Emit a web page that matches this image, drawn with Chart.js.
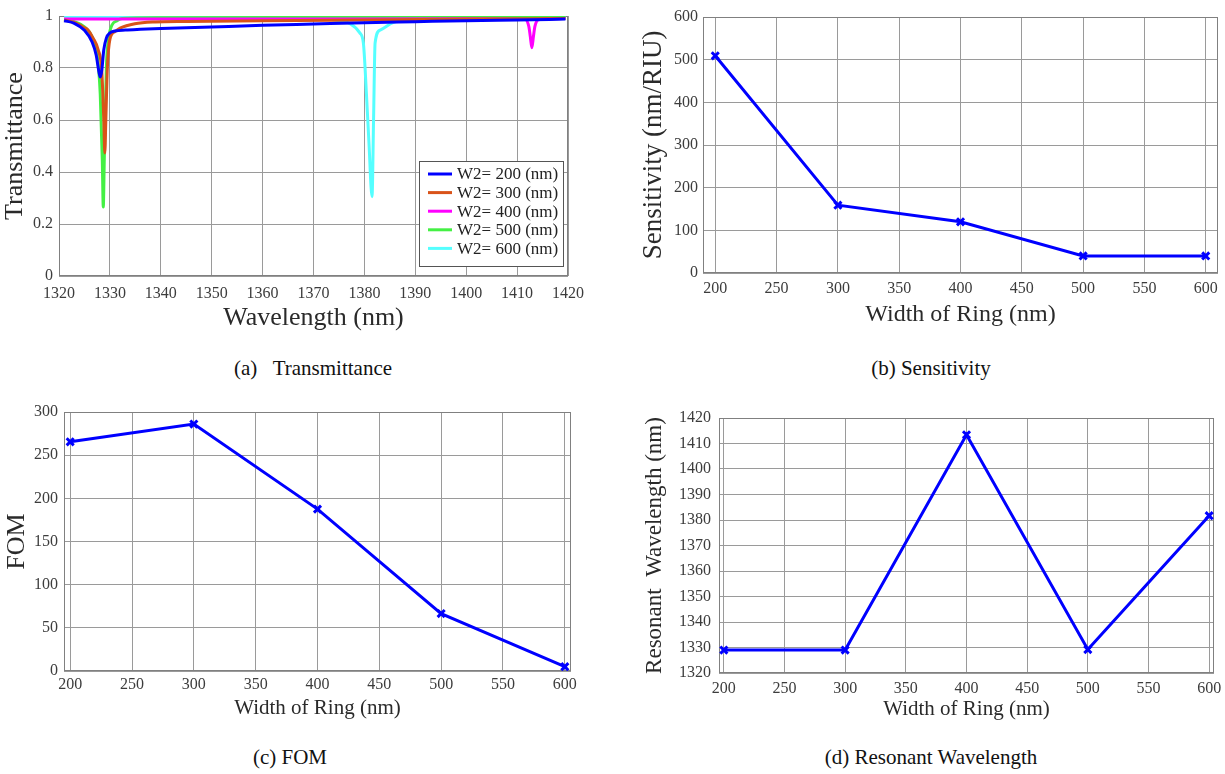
<!DOCTYPE html>
<html>
<head>
<meta charset="utf-8">
<script src="https://cdn.jsdelivr.net/npm/chart.js@4.4.1/dist/chart.umd.min.js"></script>
<style>
  html, body { margin: 0; padding: 0; background: #fff; overflow: hidden; }
  body { width: 1225px; height: 774px; position: relative; font-family: 'Liberation Serif', 'Times New Roman', serif; }
  .panel { position: absolute; }
  .caption { position: absolute; font-size: 21px; color: #111; transform: translateX(-50%); white-space: pre; }
</style>
</head>
<body>
<div class="panel" style="left:0;top:0"><canvas id="transChart" width="600" height="340"></canvas></div>
<div class="panel" style="left:600px;top:0"><canvas id="sensChart" width="640" height="340"></canvas></div>
<div class="panel" style="left:0;top:390px"><canvas id="fomChart" width="610" height="340"></canvas></div>
<div class="panel" style="left:620px;top:390px"><canvas id="resChart" width="620" height="340"></canvas></div>

<div class="caption" style="left:313px;top:356px">(a)   Transmittance</div>
<div class="caption" style="left:931px;top:356px">(b) Sensitivity</div>
<div class="caption" style="left:290px;top:745px">(c) FOM</div>
<div class="caption" style="left:931px;top:745px">(d) Resonant Wavelength</div>

<script>
// Transmittance spectra, one pair of arrays per ring width
const wl200 = [1321, 1323, 1325, 1326.5, 1327.3, 1327.8, 1328.1, 1328.4, 1328.8, 1329.3, 1330, 1331, 1333, 1336, 1340, 1350, 1360, 1370, 1380, 1390, 1400, 1410, 1419.5];
const tr200 = [0.982, 0.972, 0.945, 0.9, 0.85, 0.79, 0.765, 0.79, 0.87, 0.915, 0.935, 0.942, 0.946, 0.949, 0.952, 0.958, 0.964, 0.969, 0.974, 0.978, 0.982, 0.985, 0.988];

const wl300 = [1321, 1323, 1325, 1325.7, 1326.7, 1327.7, 1328.4, 1328.8, 1329, 1329.2, 1329.5, 1330, 1331, 1332, 1334.9, 1338.9, 1345, 1360, 1380, 1400, 1419.5];
const tr300 = [0.985, 0.975, 0.955, 0.946, 0.915, 0.87, 0.79, 0.6, 0.473, 0.6, 0.8, 0.91, 0.94, 0.953, 0.97, 0.977, 0.979, 0.982, 0.985, 0.988, 0.99];

const wl400 = [1321, 1360, 1400, 1411.6, 1412.3, 1412.6, 1412.9, 1413.2, 1413.5, 1414.2, 1419.5];
const tr400 = [0.988, 0.988, 0.989, 0.987, 0.96, 0.92, 0.878, 0.92, 0.96, 0.986, 0.99];

const wl500 = [1321, 1323, 1325, 1326.5, 1327.5, 1328.1, 1328.5, 1328.7, 1328.9, 1329.3, 1329.8, 1330.4, 1331.4, 1332.4, 1340, 1380, 1419.5];
const tr500 = [0.987, 0.978, 0.958, 0.92, 0.85, 0.7, 0.45, 0.265, 0.45, 0.8, 0.92, 0.965, 0.982, 0.99, 0.993, 0.995, 0.997];

const wl600 = [1321, 1340, 1360, 1370, 1374, 1377.2, 1379.1, 1379.8, 1380.4, 1380.9, 1381.5, 1381.8, 1382.1, 1383.1, 1385.6, 1389, 1400, 1419.5];
const tr600 = [0.998, 0.998, 0.997, 0.993, 0.985, 0.97, 0.935, 0.896, 0.7, 0.51, 0.305, 0.6, 0.896, 0.946, 0.975, 0.99, 0.996, 0.998];

const seriesLabels = ['W2= 200 (nm)', 'W2= 300 (nm)', 'W2= 400 (nm)', 'W2= 500 (nm)', 'W2= 600 (nm)'];
const seriesColors = ['#0000ff', '#d95319', '#ff00ff', '#44f044', '#55ffff'];

// Ring width sweep (panels b, c, d)
const ringWidths = [200, 300, 400, 500, 600];
const sensitivity = [509, 159, 120, 40, 40];
const fom = [265.5, 286, 187.5, 66.5, 5];
const resonantWl = [1329, 1329, 1413.4, 1329.2, 1381.7];

const SERIF = "'Liberation Serif', 'Times New Roman', serif";
const GRID = '#9a9a9a';
const TICK = '#3c3c3c';

function pairUp(xs, ys) {
  return xs.map((x, i) => ({ x: x, y: ys[i] }));
}

// plain numbers, no thousands separator, no trailing zeros
function plainTick(v) {
  return String(+v.toFixed(3));
}

// draw a grey box round the plot area
const frame = {
  id: 'frame',
  beforeDatasetsDraw(chart) {
    const a = chart.chartArea;
    const ctx = chart.ctx;
    ctx.save();
    ctx.strokeStyle = '#808080';
    ctx.lineWidth = 1;
    ctx.strokeRect(a.left + 0.5, a.top + 0.5, a.right - a.left - 1, a.bottom - a.top - 1);
    ctx.restore();
  }
};

// boxed legend in the lower right corner of the plot area
const boxLegend = {
  id: 'boxLegend',
  afterDatasetsDraw(chart, args, opts) {
    if (!opts.show) return;
    const ctx = chart.ctx;
    const a = chart.chartArea;
    const x = a.right - opts.right - opts.width;
    const y = a.bottom - opts.bottom - opts.height;
    ctx.save();
    ctx.fillStyle = '#fff';
    ctx.fillRect(x, y, opts.width, opts.height);
    ctx.strokeStyle = '#555';
    ctx.lineWidth = 1;
    ctx.strokeRect(x + 0.5, y + 0.5, opts.width, opts.height);
    ctx.font = '17px ' + SERIF;
    ctx.textBaseline = 'middle';
    chart.data.datasets.forEach((ds, i) => {
      const ly = y + 13 + i * 18.6;
      ctx.strokeStyle = ds.borderColor;
      ctx.lineWidth = 3;
      ctx.beginPath();
      ctx.moveTo(x + 9, ly);
      ctx.lineTo(x + 33, ly);
      ctx.stroke();
      ctx.fillStyle = '#222';
      ctx.fillText(ds.label, x + 38, ly + 1);
    });
    ctx.restore();
  }
};

function xScale(min, max, step, height, titleText, titleSize, titleBottom, tickPad) {
  return {
    type: 'linear',
    min: min,
    max: max,
    afterFit: s => { s.height = height; },
    ticks: { stepSize: step, includeBounds: false, padding: tickPad, color: TICK, font: { family: SERIF, size: 16 }, maxRotation: 0, callback: plainTick },
    grid: { color: GRID, drawTicks: false },
    border: { display: false },
    title: { display: true, text: titleText, color: '#2a2a2a', font: { family: SERIF, size: titleSize }, padding: { top: 0, bottom: titleBottom } }
  };
}

function yScale(min, max, step, width, titleText, titleSize, titleTop, tickPad) {
  return {
    type: 'linear',
    min: min,
    max: max,
    afterFit: s => { s.width = width; },
    ticks: { stepSize: step, includeBounds: false, padding: tickPad, color: TICK, font: { family: SERIF, size: 16 }, callback: plainTick },
    grid: { color: GRID, drawTicks: false },
    border: { display: false },
    title: { display: true, text: titleText, color: '#2a2a2a', font: { family: SERIF, size: titleSize }, padding: { top: titleTop, bottom: 0 } }
  };
}

// (a) Transmittance
const specX = [wl200, wl300, wl400, wl500, wl600];
const specY = [tr200, tr300, tr400, tr500, tr600];
new Chart(document.getElementById('transChart'), {
  type: 'line',
  data: {
    datasets: seriesLabels.map((lab, i) => ({
      label: lab,
      data: pairUp(specX[i], specY[i]),
      borderColor: seriesColors[i],
      backgroundColor: seriesColors[i],
      borderWidth: 3,
      pointRadius: 0,
      cubicInterpolationMode: 'monotone',
      fill: false
    }))
  },
  options: {
    responsive: false,
    animation: false,
    layout: { padding: { left: 0, right: 32, top: 16, bottom: 0 } },
    plugins: {
      legend: { display: false },
      tooltip: { enabled: false },
      boxLegend: { show: true, width: 144, height: 105, right: 5, bottom: 10 }
    },
    scales: {
      x: xScale(1320, 1420, 10, 64, 'Wavelength (nm)', 26, 6, 8),
      y: yScale(0, 1, 0.2, 59, 'Transmittance', 26, 0, 6)
    }
  },
  plugins: [frame, boxLegend]
});

function sweepChart(id, values, cfg) {
  new Chart(document.getElementById(id), {
    type: 'line',
    data: {
      datasets: [{
        data: pairUp(ringWidths, values),
        borderColor: '#0000ff',
        backgroundColor: '#0000ff',
        borderWidth: 3,
        pointStyle: 'crossRot',
        pointRadius: 5,
        pointBorderWidth: 3,
        tension: 0
      }]
    },
    options: {
      responsive: false,
      animation: false,
      layout: { padding: cfg.pad },
      plugins: { legend: { display: false }, tooltip: { enabled: false } },
      scales: { x: cfg.x, y: cfg.y }
    },
    plugins: [frame]
  });
}

// (b) Sensitivity
sweepChart('sensChart', sensitivity, {
  pad: { left: 0, right: 22, top: 17, bottom: 0 },
  x: xScale(190, 610, 50, 67, 'Width of Ring (nm)', 24, 10.6, 6),
  y: yScale(0, 600, 100, 103, 'Sensitivity (nm/RIU)', 27, 37.8, 5)
});

// (c) FOM
sweepChart('fomChart', fom, {
  pad: { left: 0, right: 39, top: 22, bottom: 0 },
  x: xScale(195, 605, 50, 59, 'Width of Ring (nm)', 21, 9.4, 4),
  y: yScale(0, 300, 50, 64, 'FOM', 26, 2, 6)
});

// (d) Resonant Wavelength
sweepChart('resChart', resonantWl, {
  pad: { left: 0, right: 26, top: 28, bottom: 0 },
  x: xScale(196, 604, 50, 57, 'Width of Ring (nm)', 21, 8.4, 6),
  y: yScale(1320, 1420, 10, 99, 'Resonant  Wavelength (nm)', 23, 21.2, 8)
});
</script>
</body>
</html>
